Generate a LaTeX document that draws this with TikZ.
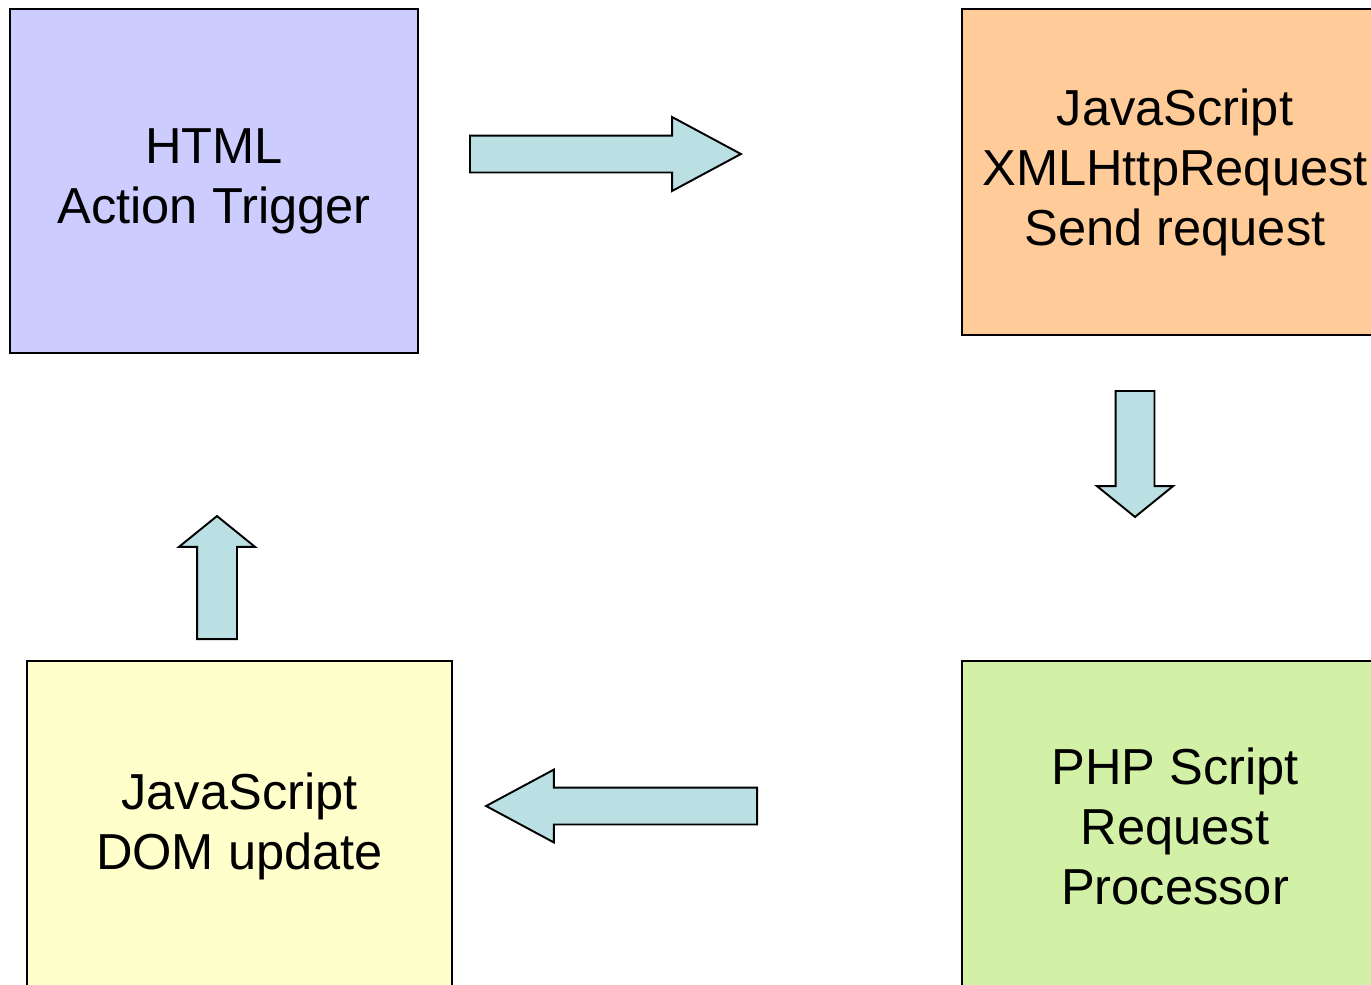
\documentclass[tikz,border=0pt]{standalone}
\usepackage{fontspec}
\setmainfont{Liberation Sans}
\usetikzlibrary{shapes.arrows}
\definecolor{lavender}{HTML}{CCCCFF}
\definecolor{peach}{HTML}{FFCC99}
\definecolor{lime}{HTML}{D2F0A6}
\definecolor{cream}{HTML}{FFFFCC}
\definecolor{paleteal}{HTML}{BBE0E3}

\begin{document}
\begin{tikzpicture}[
    x=0.02cm, y=-0.02cm,
    stagebox/.style={rectangle, draw=black, line width=0.8pt, inner sep=0pt,
        align=center, font=\fontsize{28.8}{34.2}\selectfont},
    flowarrow/.style={single arrow, draw=black, line width=1.1pt, fill=paleteal,
        inner xsep=0pt, single arrow head indent=0pt, anchor=tail},
]
% Page frame (boxes on the right and bottom run off the edge)
\useasboundingbox (0,0) rectangle (1371,984);
\clip (0,0) rectangle (1371,984);

% Stages
\node[stagebox, fill=lavender, minimum width=8.16cm, minimum height=6.88cm]
    (trigger) at (214,181) {HTML\\Action Trigger};
\node[stagebox, fill=peach, minimum width=8.52cm, minimum height=6.52cm]
    (request) at (1175,172) {JavaScript\\XMLHttpRequest\\Send request};
\node[stagebox, fill=lime, minimum width=8.52cm, minimum height=6.6cm]
    (processor) at (1175,826) {PHP Script\\Request\\Processor};
\node[stagebox, fill=cream, minimum width=8.5cm, minimum height=6.6cm]
    (domupdate) at (239.5,826) {JavaScript\\DOM update};

% Block arrows between the stages
\node[flowarrow, minimum height=5.42cm, inner ysep=0.35cm,
    single arrow head extend=0.37cm, single arrow tip angle=56.5]
    (sendarrow) at (469,154) {};
\node[flowarrow, rotate=-90, minimum height=2.52cm, inner ysep=0.37cm,
    single arrow head extend=0.37cm, single arrow tip angle=102]
    (processarrow) at (1135,390) {};
\node[flowarrow, rotate=180, minimum height=5.42cm, inner ysep=0.35cm,
    single arrow head extend=0.36cm, single arrow tip angle=56.5]
    (replyarrow) at (758,806) {};
\node[flowarrow, rotate=90, minimum height=2.46cm, inner ysep=0.38cm,
    single arrow head extend=0.36cm, single arrow tip angle=102]
    (updatearrow) at (217,640) {};

\end{tikzpicture}
\end{document}
